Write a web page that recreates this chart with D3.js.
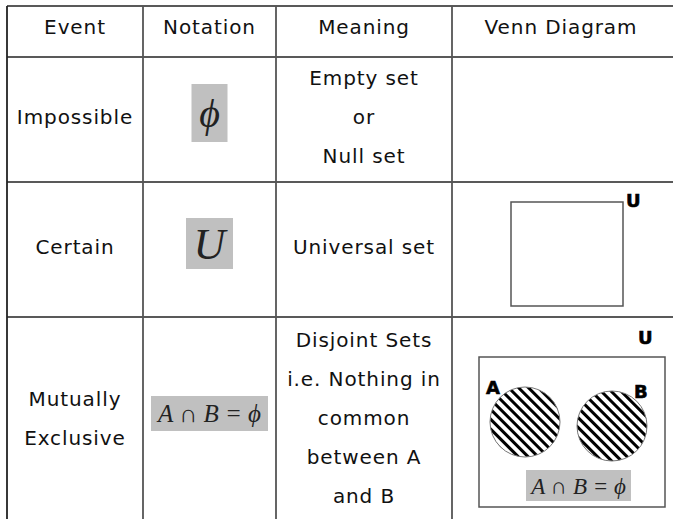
<!DOCTYPE html>
<html>
<head>
<meta charset="utf-8">
<script src="https://cdn.jsdelivr.net/npm/d3@7"></script>
<style>
  body { margin: 0; background: #fff; }
  svg { display: block; }
  .cell { font-family: "DejaVu Sans", Verdana, sans-serif; font-size: 20px; letter-spacing: 0.9px; fill: #111; }
  .math { font-family: "Liberation Serif", "DejaVu Serif", serif; font-style: italic; fill: #222; }
  .setlbl { font-family: "DejaVu Sans", sans-serif; font-weight: bold; font-size: 18px; fill: #000; stroke: #000; stroke-width: 0.6px; }
</style>
</head>
<body>
<div id="chart"></div>
<script>
// table content
var headers = ["Event", "Notation", "Meaning", "Venn Diagram"];
var events = [["Impossible"], ["Certain"], ["Mutually", "Exclusive"]];
var notations = ["\u03D5", "U", "A \u2229 B = \u03D5"];
var meanings = [
	["Empty set", "or", "Null set"],
	["Universal set"],
	["Disjoint Sets", "i.e. Nothing in", "common", "between A", "and B"]
];
var vennSets = ["A", "B"];
var vennLabels = ["U", "U"]; // universe label per row with a diagram

var width = 673, height = 519;
var colEdges = [7, 143, 276, 452, 670];
var rowEdges = [6, 57, 182, 317, 525];
var lineGap = 39;

var svg = d3.select('#chart')
	.append('svg')
	.attr('width', width)
	.attr('height', height);

// diagonal hatching for the disjoint circles
svg.append('defs')
	.append('pattern')
	.attr('id', 'hatch')
	.attr('patternUnits', 'userSpaceOnUse')
	.attr('width', 7)
	.attr('height', 7)
	.attr('patternTransform', 'rotate(-45)')
	.append('rect')
	.attr('x', 0).attr('y', 0)
	.attr('width', 3).attr('height', 7)
	.attr('fill', '#000');

// column centre and row centre scales
var colX = d3.scaleOrdinal()
	.domain(headers)
	.range(headers.map(function(d, i) { return (colEdges[i] + colEdges[i + 1]) / 2; }));
var rowKeys = ["head", "impossible", "certain", "exclusive"];
var rowY = d3.scaleOrdinal()
	.domain(rowKeys)
	.range(rowKeys.map(function(d, i) { return (rowEdges[i] + rowEdges[i + 1]) / 2; }));

// grid lines
svg.selectAll('.hline')
	.data(rowEdges.slice(0, 4))
	.enter().append('line')
	.attr('x1', colEdges[0]).attr('x2', width)
	.attr('y1', function(d) { return d; })
	.attr('y2', function(d) { return d; })
	.attr('stroke', '#222')
	.attr('stroke-width', 1.6);

svg.selectAll('.vline')
	.data(colEdges.slice(0, 4))
	.enter().append('line')
	.attr('x1', function(d) { return d; })
	.attr('x2', function(d) { return d; })
	.attr('y1', rowEdges[0]).attr('y2', height)
	.attr('stroke', function(d, i) { return i == 0 ? '#222' : '#555'; })
	.attr('stroke-width', 1.8);

// header
svg.selectAll('.head')
	.data(headers)
	.enter().append('text')
	.attr('class', 'cell')
	.attr('text-anchor', 'middle')
	.attr('x', function(d) { return colX(d); })
	.attr('y', 34)
	.text(function(d) { return d; });

// multi line text block centred on a point
function block(lines, cx, firstBase) {
	lines.forEach(function(t, i) {
		svg.append('text')
			.attr('class', 'cell')
			.attr('text-anchor', 'middle')
			.attr('x', cx)
			.attr('y', firstBase + i * lineGap)
			.text(t);
	});
}

var bodyRows = rowKeys.slice(1);
bodyRows.forEach(function(r, i) {
	var cy = rowY(r);
	var ev = events[i];
	block(ev, colX("Event"), cy + 4 - (ev.length - 1) * lineGap / 2);
	var mn = meanings[i];
	block(mn, colX("Meaning"), cy + 4 - (mn.length - 1) * lineGap / 2);
});

// notation boxes
var noteSize = [{w: 36, h: 58, fs: 40}, {w: 47, h: 51, fs: 44}, {w: 117, h: 35, fs: 25}];
var noteTop = [84, 218, 396];
notations.forEach(function(n, i) {
	var cx = colX("Notation");
	var s = noteSize[i];
	var top = noteTop[i];
	svg.append('rect')
		.attr('x', cx - s.w / 2).attr('y', top)
		.attr('width', s.w).attr('height', s.h)
		.attr('fill', '#c0c0c0');
	svg.append('text')
		.attr('class', 'math')
		.attr('text-anchor', 'middle')
		.attr('x', cx)
		.attr('y', top + s.h / 2)
		.attr('dy', '0.35em')
		.style('font-size', s.fs + 'px')
		.text(n);
});

// Certain: universal set box
svg.append('rect')
	.attr('x', 511).attr('y', 202)
	.attr('width', 112).attr('height', 104)
	.attr('fill', 'none')
	.attr('stroke', '#555')
	.attr('stroke-width', 1.5);
svg.append('text')
	.attr('class', 'setlbl')
	.attr('x', 626).attr('y', 207)
	.text(vennLabels[0]);

// Mutually exclusive: two disjoint sets
svg.append('rect')
	.attr('x', 479).attr('y', 357)
	.attr('width', 186).attr('height', 150)
	.attr('fill', 'none')
	.attr('stroke', '#555')
	.attr('stroke-width', 1.5);
svg.append('text')
	.attr('class', 'setlbl')
	.attr('x', 638).attr('y', 344)
	.text(vennLabels[1]);

var setX = d3.scaleOrdinal().domain(vennSets).range([525, 612]);
var setY = d3.scaleOrdinal().domain(vennSets).range([422, 426]);
svg.selectAll('.set')
	.data(vennSets)
	.enter().append('circle')
	.attr('cx', function(d) { return setX(d); })
	.attr('cy', function(d) { return setY(d); })
	.attr('r', 35)
	.attr('fill', 'url(#hatch)')
	.attr('stroke', '#777')
	.attr('stroke-width', 1);
svg.selectAll('.setname')
	.data(vennSets)
	.enter().append('text')
	.attr('class', 'setlbl')
	.attr('x', function(d, i) { return [486, 634][i]; })
	.attr('y', function(d, i) { return [394, 398][i]; })
	.text(function(d) { return d; });

svg.append('rect')
	.attr('x', 526).attr('y', 470)
	.attr('width', 105).attr('height', 31)
	.attr('fill', '#c0c0c0');
svg.append('text')
	.attr('class', 'math')
	.attr('text-anchor', 'middle')
	.attr('x', 578.5).attr('y', 485.5)
	.attr('dy', '0.35em')
	.style('font-size', '23px')
	.text(notations[2]);
</script>
</body>
</html>
